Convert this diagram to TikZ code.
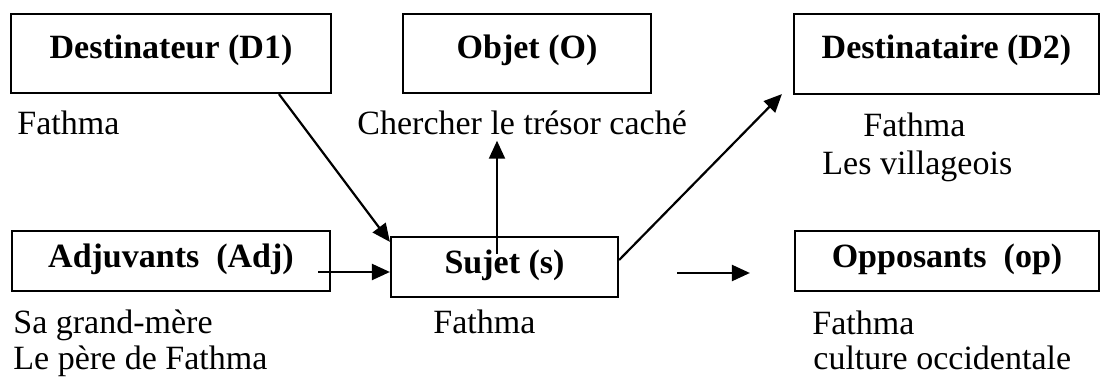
\documentclass[tikz,border=0pt]{standalone}
\usepackage{fontspec}
\setmainfont{Liberation Serif}
\usetikzlibrary{arrows.meta,calc}
\begin{document}
\begin{tikzpicture}[x=0.5pt,y=-0.5pt,
  box/.style={draw, line width=1.1pt, inner sep=0pt, font=\fontsize{17}{20}\selectfont\bfseries},
  topbox/.style={box, minimum height=39.5pt, text height=11pt, text depth=6pt},
  lowbox/.style={box, minimum height=30pt, text height=11pt, text depth=4.5pt},
  lbl/.style={inner sep=0pt, anchor=base west, font=\fontsize{17}{20}\selectfont},
  arr/.style={line width=1.1pt, -{Triangle[length=9pt,width=8pt]}}]
\useasboundingbox (0,0) rectangle (1102,378);
% boxes
\node[topbox, minimum width=160pt] (d1) at (171,53.5) {Destinateur (D1)};
\node[topbox, minimum width=124pt] (obj) at (527,53.5) {Objet (O)};
\node[topbox, minimum width=152.5pt, minimum height=40pt] (d2) at (946.5,54) {Destinataire (D2)};
\node[lowbox, minimum width=159pt] (adj) at (171,261) {Adjuvants\ \ (Adj)};
\node[lowbox, minimum width=113.5pt] (suj) at (504.5,267) {Sujet (s)};
\node[lowbox, minimum width=152pt] (opp) at (947,261) {Opposants\ \ (op)};
% texts
\node[lbl] (t1) at (17,135) {Fathma};
\node[lbl] (t2) at (357,135) {Chercher le trésor caché};
\node[lbl] (t3) at (863,137) {Fathma};
\node[lbl] (t4) at (822,175) {Les villageois};
\node[lbl] (t5) at (13,334) {Sa grand-mère};
\node[lbl] (t6) at (13,370) {Le père de Fathma};
\node[lbl] (t7) at (433,334) {Fathma};
\node[lbl] (t8) at (812,335) {Fathma};
\node[lbl] (t9) at (813,370) {culture occidentale};
% connectors
\draw[arr] ([xshift=54pt]d1.south) -- ([yshift=-3pt]suj.north west);
\draw[arr] ([xshift=-3.75pt,yshift=-9pt]suj.north) -- ($(suj.north |- t2.south)+(-7.5,5)$);
\draw[arr] ([yshift=3.5pt]suj.east) -- ([xshift=-5.5pt,yshift=0.5pt]d2.south west);
\draw[arr] ([xshift=-6.5pt,yshift=-5.5pt]adj.east) -- ([yshift=-2.5pt]suj.west);
\draw[arr] ([xshift=29pt,yshift=-3pt]suj.east) -- ([xshift=-22pt,yshift=-6pt]opp.west);
\end{tikzpicture}
\end{document}
